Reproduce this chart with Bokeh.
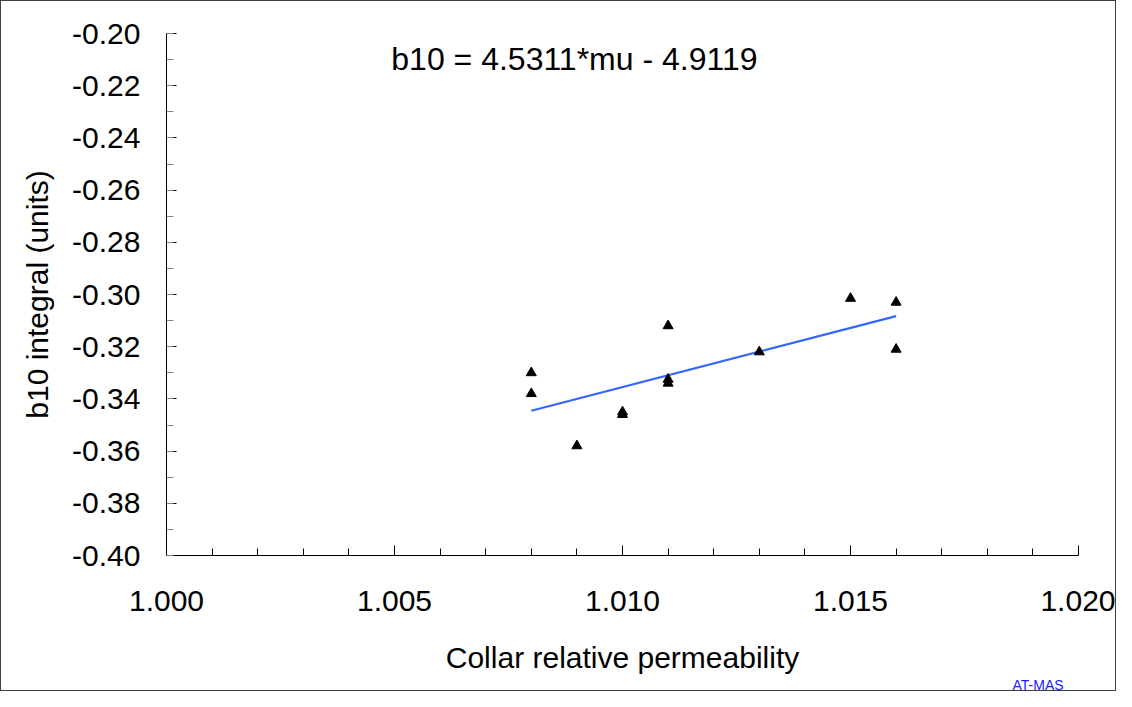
from bokeh.plotting import figure
from bokeh.models import FixedTicker, PrintfTickFormatter, Label
from bokeh.embed import file_html
from bokeh.resources import INLINE

# data
mu = [1.008, 1.008, 1.009, 1.010, 1.010, 1.011, 1.011, 1.011, 1.013, 1.015, 1.016, 1.016]
b10 = [-0.330, -0.338, -0.358, -0.345, -0.346, -0.312, -0.3325, -0.334, -0.322, -0.3015, -0.303, -0.321]
slope = 4.5311
intercept = -4.9119
x_major = [1.000, 1.005, 1.010, 1.015, 1.020]
y_major = [-0.40, -0.38, -0.36, -0.34, -0.32, -0.30, -0.28, -0.26, -0.24, -0.22, -0.20]

FONT = "Liberation Sans"

p = figure(width=1116, height=691, output_backend="svg", toolbar_location=None,
           x_range=(1.000, 1.020), y_range=(-0.40, -0.20),
           min_border_left=165, min_border_right=39, min_border_top=32, min_border_bottom=136)
p.outline_line_color = None
p.xgrid.visible = False
p.ygrid.visible = False
p.background_fill_color = "white"
p.border_fill_color = "white"

# fitted line
fx = [min(mu), max(mu)]
fy = [slope * v + intercept for v in fx]
p.line(fx, fy, line_color="#3366ff", line_width=2.2)

p.scatter(mu, b10, marker="triangle", size=10, fill_color="black", line_color="black")

# x axis
xa = p.xaxis[0]
xa.ticker = FixedTicker(ticks=x_major, minor_ticks=[1.000 + i * 0.001 for i in range(21)])
xa.formatter = PrintfTickFormatter(format="%.3f")
xa.major_tick_in = 10
xa.major_tick_out = 0
xa.minor_tick_in = 7
xa.minor_tick_out = 0
xa.axis_line_color = "black"
xa.major_tick_line_color = "black"
xa.minor_tick_line_color = "black"
xa.major_label_text_font = FONT
xa.major_label_text_font_size = "30px"
xa.major_label_text_color = "black"
xa.major_label_standoff = 35
xa.axis_label = "Collar relative permeability"
xa.axis_label_text_font = FONT
xa.axis_label_text_font_size = "30px"
xa.axis_label_text_font_style = "normal"
xa.axis_label_text_color = "black"
xa.axis_label_standoff = 27

# y axis
ya = p.yaxis[0]
ya.ticker = FixedTicker(ticks=y_major, minor_ticks=[-0.40 + i * 0.01 for i in range(21)])
ya.formatter = PrintfTickFormatter(format="%.2f")
ya.major_tick_in = 10
ya.major_tick_out = 0
ya.minor_tick_in = 7
ya.minor_tick_out = 0
ya.axis_line_color = "black"
ya.major_tick_line_color = "black"
ya.minor_tick_line_color = "#808080"
ya.major_label_text_font = FONT
ya.major_label_text_font_size = "30px"
ya.major_label_text_color = "black"
ya.major_label_standoff = 26
ya.axis_label = "b10 integral (units)"
ya.axis_label_text_font = FONT
ya.axis_label_text_font_size = "30px"
ya.axis_label_text_font_style = "normal"
ya.axis_label_text_color = "black"
ya.axis_label_standoff = 15

eq = Label(x=1.00493, y=-0.2098, text="b10 = 4.5311*mu - 4.9119",
           text_font=FONT, text_font_size="32px", text_color="black",
           text_baseline="alphabetic", text_align="left")
p.add_layout(eq)

tag = Label(x=846, y=8, x_units="screen", y_units="screen", text="AT-MAS",
            text_font=FONT, text_font_size="14px",
            text_color="#2020ff", text_baseline="middle", text_align="left")
p.add_layout(tag, "below")

p.styles = {"border": "1px solid #404040", "box-sizing": "border-box"}

open("out.html", "w").write(file_html(p, INLINE))
